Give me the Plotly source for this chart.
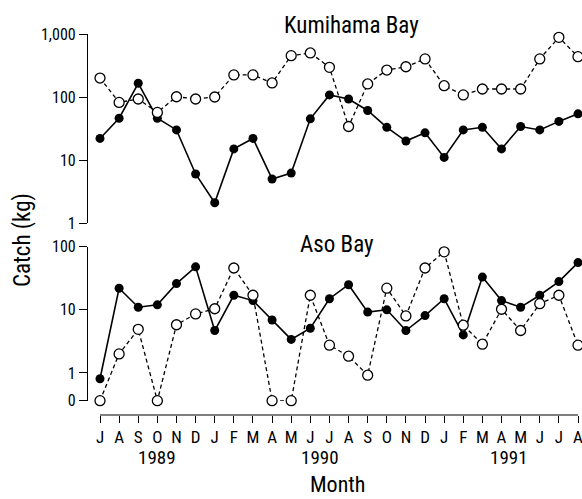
import plotly.graph_objects as go

months = ["J", "A", "S", "O", "N", "D", "J", "F", "M", "A", "M", "J", "J",
          "A", "S", "O", "N", "D", "J", "F", "M", "A", "M", "J", "J", "A"]
years = ["1989", "1990", "1991"]
year_pos = [3, 11.5, 21.4]

kumi_filled = [22, 46, 165, 46, 30, 6, 2.1, 15, 22, 5, 6.2, 45, 108, 93, 61,
               33, 20, 27, 11, 30, 33, 15, 34, 30, 41, 54]
kumi_open = [200, 82, 93, 57, 101, 93, 100, 224, 224, 167, 453, 500, 296, 34,
             161, 268, 302, 402, 151, 108, 134, 134, 134, 402, 885, 437]
aso_filled = [0.81, 22, 11, 12, 26, 48, 4.7, 17, 14, 6.9, 3.4, 5.1, 15, 25,
              9.2, 10, 4.7, 8.1, 15, 4.0, 33, 14, 11, 17, 28, 56]
aso_open = [0, 2.0, 4.9, 0, 5.8, 8.6, 10.4, 46, 17, 0, 0, 17, 2.75, 1.84, 0.92,
            22, 8, 46, 83, 5.7, 2.85, 10.2, 4.7, 12.5, 17, 2.75]

ZERO_POS = 10 ** -0.44  # where "0" sits on the broken log axis


def zfix(vals):
    return [v if v > 0 else ZERO_POS for v in vals]


FONT = "Liberation Sans Narrow, Roboto Condensed, DejaVu Sans Condensed, Arial Narrow, sans-serif"
x = list(range(len(months)))

fig = go.Figure()


def add(yvals, yaxis, filled):
    if filled:
        fig.add_trace(go.Scatter(
            x=x, y=yvals, yaxis=yaxis, mode="lines+markers",
            line=dict(color="black", width=1.6),
            marker=dict(symbol="circle", size=9, color="black"),
            cliponaxis=False, showlegend=False))
    else:
        fig.add_trace(go.Scatter(
            x=x, y=yvals, yaxis=yaxis, mode="lines+markers",
            line=dict(color="black", width=1.3, dash="4px,3px"),
            marker=dict(symbol="circle", size=10, color="white",
                        line=dict(color="black", width=1.3)),
            cliponaxis=False, showlegend=False))


add(kumi_filled, "y", True)
add(kumi_open, "y", False)
add(aso_filled, "y2", True)
add(zfix(aso_open), "y2", False)

W, H = 582, 499
ml, mr, mt, mb = 87, 0, 34, 84
pw = W - ml - mr
ph = H - mt - mb
px_per_month = 19.12
x0_pix = 98
r0 = -(100 - x0_pix) / px_per_month
r1 = r0 + (W - x0_pix) / px_per_month


def py(pix):
    return (H - mb - pix) / ph


yax_common = dict(
    type="log", showgrid=False, zeroline=False, showline=True,
    linecolor="black", linewidth=1.2, ticks="outside", ticklen=8,
    tickcolor="black", tickwidth=1.2, anchor="free", position=0,
    tickfont=dict(family=FONT, size=16, color="black"),
)

fig.update_layout(
    width=W, height=H,
    margin=dict(l=ml, r=mr, t=mt, b=mb),
    paper_bgcolor="white", plot_bgcolor="white",
    font=dict(family=FONT, color="black"),
    xaxis=dict(
        domain=[(x0_pix - ml) / pw, 1], range=[r0, r1], anchor="free", position=0,
        tickmode="array", tickvals=x, ticktext=months,
        showgrid=False, zeroline=False, showline=False,
        ticks="outside", ticklen=7, tickcolor="black", tickwidth=1.2,
        ticklabeloverflow="allow",
        tickfont=dict(family=FONT, size=17, color="black"),
    ),
    yaxis=dict(domain=[py(223), 1], range=[0, 3],
               tickvals=[1, 10, 100, 1000], ticktext=["1", "10", "100", "1,000"],
               **yax_common),
    yaxis2=dict(domain=[py(400.7), py(246.7)], range=[-0.44, 2],
                tickvals=[ZERO_POS, 1, 10, 100], ticktext=["0", "1", "10", "100"],
                **yax_common),
)

# x-axis baseline spanning first to last month
fig.add_shape(type="line", xref="x", yref="paper", x0=x[0], x1=x[-1],
              y0=0, y1=0, line=dict(color="black", width=1.2))

ann = [
    dict(text="Kumihama Bay", x=(351 - ml) / pw, y=py(25), size=23),
    dict(text="Aso Bay", x=(337 - ml) / pw, y=py(244), size=23),
    dict(text="Month", x=(337 - ml) / pw, y=py(484), size=22),
]
for a in ann:
    fig.add_annotation(text=a["text"], x=a["x"], y=a["y"], xref="paper",
                       yref="paper", showarrow=False, xanchor="center",
                       yanchor="middle", font=dict(family=FONT, size=a["size"]))
fig.add_annotation(text="Catch (kg)", x=(22 - ml) / pw, y=py(240), xref="paper",
                   yref="paper", showarrow=False, textangle=-90,
                   xanchor="center", yanchor="middle",
                   font=dict(family=FONT, size=23))
for yr, pos in zip(years, year_pos):
    fig.add_annotation(text=yr, x=pos, y=py(457), xref="x", yref="paper",
                       showarrow=False, xanchor="center", yanchor="middle",
                       font=dict(family=FONT, size=19))

fig.write_html("out.html")
